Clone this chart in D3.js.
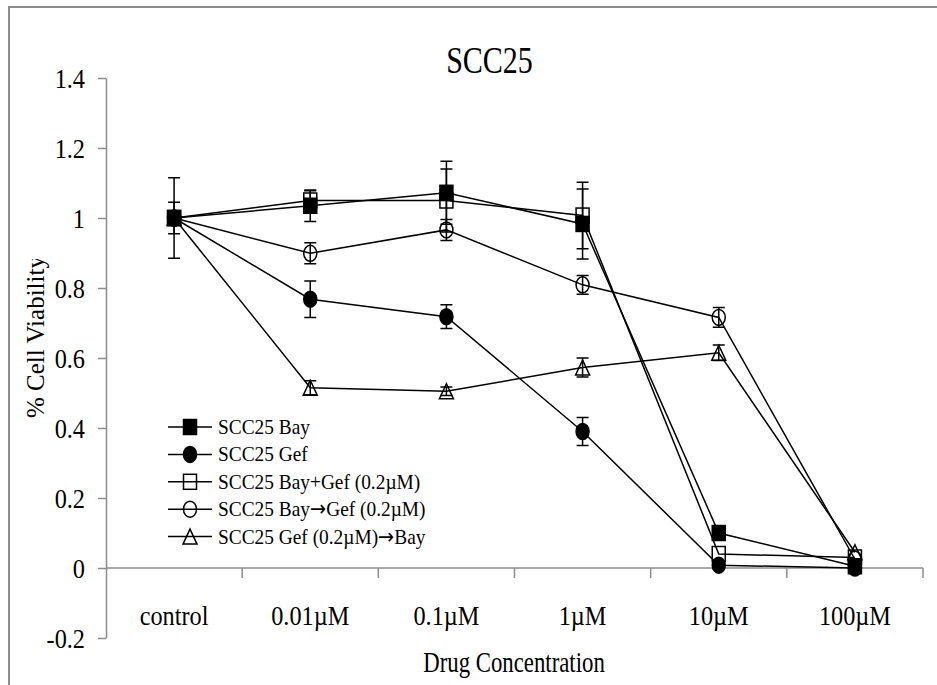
<!DOCTYPE html>
<html>
<head>
<meta charset="utf-8">
<script src="https://cdn.jsdelivr.net/npm/d3@7"></script>
<style>
  body { margin: 0; background: #fff; }
  svg { display: block; }
  text { font-family: "Liberation Serif", "Times New Roman", serif; fill: #000; }
  tspan.arrow { font-family: "DejaVu Sans", sans-serif; }
</style>
</head>
<body>
<svg id="chart" width="937" height="685"></svg>
<script>
// values
const categories = ["control", "0.01\u00b5M", "0.1\u00b5M", "1\u00b5M", "10\u00b5M", "100\u00b5M"];
const yTicks = [-0.2, 0, 0.2, 0.4, 0.6, 0.8, 1, 1.2, 1.4];

const bay = [1.0, 1.035, 1.072, 0.983, 0.10, 0.005];
const bayErr = [0.115, 0.045, 0.09, 0.1, 0, 0];
const gef = [1.0, 0.768, 0.718, 0.39, 0.008, 0.0];
const gefErr = [0.045, 0.052, 0.034, 0.04, 0, 0];
const bayPlusGef = [1.0, 1.05, 1.05, 1.007, 0.04, 0.03];
const bayPlusGefErr = [0, 0.028, 0.09, 0.095, 0, 0];
const bayThenGef = [1.0, 0.899, 0.966, 0.809, 0.716, 0.025];
const bayThenGefErr = [0, 0.03, 0.03, 0.027, 0.028, 0];
const gefThenBay = [1.0, 0.515, 0.505, 0.573, 0.615, 0.045];
const gefThenBayErr = [0, 0.02, 0.012, 0.027, 0.022, 0];

const seriesNames = [
  "SCC25 Bay",
  "SCC25 Gef",
  "SCC25 Bay+Gef (0.2\u00b5M)",
  "SCC25 Bay\u2192Gef (0.2\u00b5M)",
  "SCC25 Gef (0.2\u00b5M)\u2192Bay"
];
const seriesShapes = ["squareFill", "circleFill", "square", "circle", "triangle"];
const seriesValues = [bay, gef, bayPlusGef, bayThenGef, gefThenBay];
const seriesErrors = [bayErr, gefErr, bayPlusGefErr, bayThenGefErr, gefThenBayErr];

const series = seriesNames.map((name, i) => ({
  name, shape: seriesShapes[i],
  points: categories.map((c, j) => ({ cat: c, v: seriesValues[i][j], e: seriesErrors[i][j] }))
}));

const svg = d3.select("#chart");
const axisColor = "#8c8c8c";

// outer frame
svg.append("rect")
  .attr("x", 9).attr("y", 7).attr("width", 1000).attr("height", 700)
  .attr("fill", "none").attr("stroke", axisColor).attr("stroke-width", 2);

const x = d3.scaleBand().domain(categories).range([106, 923]).padding(0);
const cx = c => x(c) + x.bandwidth() / 2;
const y = d3.scaleLinear().domain([-0.2, 1.4]).range([638, 78]);

function label(g, px, py, str, size, sx, anchor) {
  return g.append("text")
    .attr("transform", `translate(${px},${py}) scale(${sx},1)`)
    .attr("text-anchor", anchor)
    .style("font-size", size + "px")
    .text(str);
}

// y axis
const yAxis = svg.append("g")
  .attr("transform", `translate(${x.range()[0]},0)`)
  .call(d3.axisLeft(y).tickValues(yTicks).tickSize(8).tickSizeOuter(0).tickFormat(""));
yAxis.select(".domain").attr("stroke", axisColor).attr("stroke-width", 1.5);
yAxis.selectAll(".tick line").attr("stroke", axisColor).attr("stroke-width", 1.5);
yTicks.forEach(t => label(svg, 85, y(t) + 10, String(t), 27, 0.9, "end"));

// x axis at zero with ticks at category boundaries
const xAxis = svg.append("g").attr("transform", `translate(0,${y(0)})`);
xAxis.append("line")
  .attr("x1", x.range()[0]).attr("x2", x.range()[1])
  .attr("stroke", axisColor).attr("stroke-width", 1.5);
const bounds = categories.map(c => x(c)).concat([x.range()[1]]);
xAxis.selectAll("line.tk").data(bounds.slice(1)).join("line")
  .attr("class", "tk")
  .attr("x1", d => d).attr("x2", d => d)
  .attr("y1", 0).attr("y2", 10)
  .attr("stroke", axisColor).attr("stroke-width", 1.5);
categories.forEach(c => label(svg, cx(c), 625, c, 27, 0.9, "middle"));

// titles
label(svg, 489.5, 73, "SCC25", 38, 0.79, "middle");
label(svg, 514, 672, "Drug Concentration", 30, 0.76, "middle");

// y title is cut off at the top in the original
svg.append("clipPath").attr("id", "ytclip")
  .append("rect").attr("x", 0).attr("y", 259).attr("width", 80).attr("height", 300);
svg.append("g").attr("clip-path", "url(#ytclip)")
  .append("text")
  .attr("transform", "translate(44,418) rotate(-90)")
  .attr("text-anchor", "start")
  .style("font-size", "25px")
  .text("% Cell Viability");

// markers
function marker(g, shape, px, py) {
  const w = 6.5, h = 7.5;
  if (shape === "squareFill" || shape === "square") {
    g.append("rect")
      .attr("x", px - w).attr("y", py - h).attr("width", 2 * w).attr("height", 2 * h)
      .attr("fill", shape === "squareFill" ? "#000" : "none")
      .attr("stroke", "#000").attr("stroke-width", 1.5);
  } else if (shape === "circleFill" || shape === "circle") {
    g.append("ellipse")
      .attr("cx", px).attr("cy", py).attr("rx", 6.5).attr("ry", 8)
      .attr("fill", shape === "circleFill" ? "#000" : "none")
      .attr("stroke", "#000").attr("stroke-width", 1.5);
  } else {
    g.append("path")
      .attr("d", `M${px - 7},${py + 7.5}L${px},${py - 7.5}L${px + 7},${py + 7.5}Z`)
      .attr("fill", "none").attr("stroke", "#000").attr("stroke-width", 1.5);
  }
}

const line = d3.line().x(d => cx(d.cat)).y(d => y(d.v));
const plot = svg.append("g");

// draw last series first so the filled square ends up on top
series.slice().reverse().forEach(s => {
  const g = plot.append("g");
  g.append("path").datum(s.points)
    .attr("d", line).attr("fill", "none")
    .attr("stroke", "#000").attr("stroke-width", 1.5);
  s.points.filter(p => p.e > 0).forEach(p => {
    const px = cx(p.cat);
    g.append("path")
      .attr("d", `M${px},${y(p.v - p.e)}V${y(p.v + p.e)}M${px - 6},${y(p.v - p.e)}H${px + 6}M${px - 6},${y(p.v + p.e)}H${px + 6}`)
      .attr("fill", "none").attr("stroke", "#000").attr("stroke-width", 1.5);
  });
  s.points.forEach(p => marker(g, s.shape, cx(p.cat), y(p.v)));
});

// legend
const legend = svg.append("g");
series.forEach((s, i) => {
  const ly = 427 + i * 27.4;
  legend.append("line")
    .attr("x1", 168).attr("x2", 212).attr("y1", ly).attr("y2", ly)
    .attr("stroke", "#000").attr("stroke-width", 1.5);
  marker(legend, s.shape, 190, ly);
  const t = label(legend, 218, ly + 7, "", 22, 0.88, "start");
  s.name.split(/(\u2192)/).forEach(part => {
    t.append("tspan").attr("class", part === "\u2192" ? "arrow" : null).text(part);
  });
});
</script>
</body>
</html>
